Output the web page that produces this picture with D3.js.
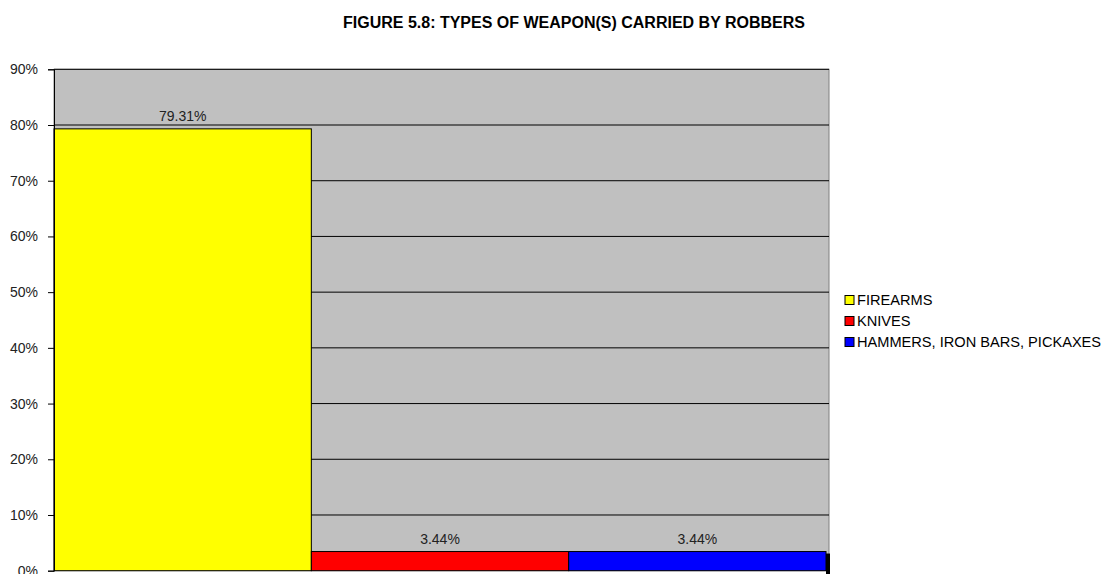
<!DOCTYPE html>
<html><head><meta charset="utf-8">
<script src="https://cdn.jsdelivr.net/npm/d3@7"></script>
<style>body{margin:0;background:#fff;overflow:hidden}svg{display:block;font-family:Arial,"Liberation Sans",sans-serif}</style>
</head><body>
<svg id="c" width="1104" height="574"></svg>
<script>
const categories = ["FIREARMS", "KNIVES", "HAMMERS, IRON BARS, PICKAXES"];
const values = [79.31, 3.44, 3.44];
const labels = ["79.31%", "3.44%", "3.44%"];
const colors = ["#FFFF00", "#FF0000", "#0000FF"];
const yTicks = [0, 10, 20, 30, 40, 50, 60, 70, 80, 90];

(function () {
const svg = d3.select("#c");
const pL = 54, pR = 829, pT = 69.3, pB = 570.7;
const x = d3.scaleBand().domain(categories).range([pL, 826]).padding(0);
const y = d3.scaleLinear().domain([0, 90]).range([pB, pT]);

svg.append("text").attr("x", 574).attr("y", 27.5).attr("text-anchor", "middle")
  .attr("font-size", 16).attr("font-weight", "bold").attr("fill", "#000")
  .text("FIGURE 5.8: TYPES OF WEAPON(S) CARRIED BY ROBBERS");

svg.append("rect").attr("x", pL).attr("y", pT).attr("width", pR - pL).attr("height", pB - pT)
  .attr("fill", "#C0C0C0").attr("stroke", "#808080").attr("stroke-width", 1);

svg.selectAll(".grid").data(yTicks.filter(d => d > 0)).enter().append("line")
  .attr("x1", pL).attr("x2", pR).attr("y1", d => y(d)).attr("y2", d => y(d))
  .attr("stroke", "#000").attr("stroke-width", 1);

// shadow sliver at right end of last bar
svg.append("rect").attr("x", 826).attr("y", y(values[2]) + 2).attr("width", 4)
  .attr("height", pB - y(values[2]) + 2).attr("fill", "#000");

svg.selectAll(".bar").data(values).enter().append("rect")
  .attr("x", (d, i) => x(categories[i])).attr("width", x.bandwidth())
  .attr("y", d => y(d)).attr("height", d => pB - y(d))
  .attr("fill", (d, i) => colors[i]).attr("stroke", "#000").attr("stroke-width", 1);

svg.selectAll(".lbl").data(values).enter().append("text")
  .attr("x", (d, i) => x(categories[i]) + x.bandwidth() / 2).attr("y", d => y(d) - 8)
  .attr("text-anchor", "middle").attr("font-size", 14).attr("fill", "#222")
  .text((d, i) => labels[i]);

const axis = d3.axisLeft(y).tickValues(yTicks).tickFormat(d => d + "%").tickSize(6).tickPadding(10);
const g = svg.append("g").attr("transform", `translate(${pL},0)`).call(axis);
g.select(".domain").attr("stroke", "#000");
g.selectAll(".tick line").attr("stroke", "#000");
g.selectAll(".tick text").attr("font-size", 14).attr("fill", "#222").attr("font-family", "Arial, 'Liberation Sans', sans-serif");

const leg = svg.selectAll(".leg").data(categories).enter().append("g")
  .attr("transform", (d, i) => `translate(845,${300 + i * 21})`);
leg.append("rect").attr("x", 0).attr("y", -4.5).attr("width", 9).attr("height", 9)
  .attr("fill", (d, i) => colors[i]).attr("stroke", "#000").attr("stroke-width", 1);
leg.append("text").attr("x", 12).attr("y", 5).attr("font-size", 14.6).attr("fill", "#000").text(d => d);
})();
</script>
</body></html>
